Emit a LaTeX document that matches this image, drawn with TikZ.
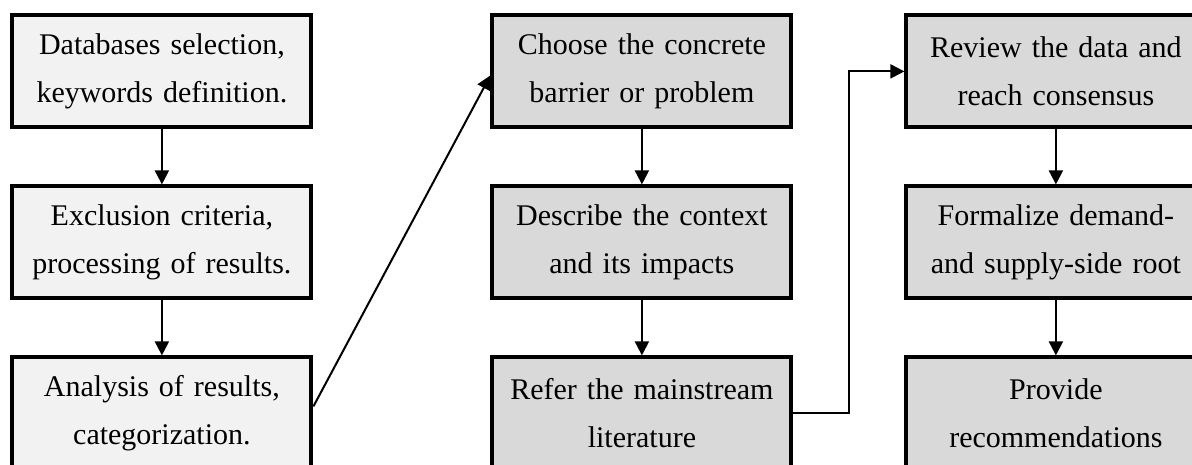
\documentclass[tikz,border=0pt]{standalone}
\usepackage{fontspec}
\setmainfont{Liberation Serif}
\usepackage{tikz}
\usetikzlibrary{positioning, calc, arrows.meta, matrix}
\definecolor{colorLit}{RGB}{242, 242, 242}
\definecolor{colorAna}{RGB}{217, 217, 217}
\tikzstyle{stepLit} = [rectangle, minimum width=149.5pt, minimum height=56pt, text width=145pt, align=center, font=\fontsize{15pt}{24pt}\selectfont, draw=black, line width=2pt, fill=colorLit]
\tikzstyle{stepAna} = [stepLit, fill=colorAna]
\tikzstyle{arrow} = [line width=1pt, -{Triangle[length=7pt, width=7pt]}]

\begin{document}
\begin{tikzpicture}

		% cropped frame
		\useasboundingbox (0pt,0pt) rectangle (596pt,-232.5pt);

		\matrix[anchor=north west, inner sep=0pt, column sep=0pt, row sep=27.5pt] at (5pt,-6.5pt)
		{
			% literature review
			\node (aSelect)[stepLit]{Databases selection,\\ keywords definition.};
			&[88.5pt] \node (bChoose)[stepAna]{Choose the concrete\\ barrier or problem};
			&[55.5pt] \node (cReview)[stepAna]{Review the data and\\ reach consensus};
			\\

			\node (aExclude)[stepLit]{Exclusion criteria,\\ processing of results.};
			& \node (bContext)[stepAna]{Describe the context\\ and its impacts};
			& \node (cRoot)[stepAna]{Formalize demand-\\ and supply-side root};
			\\

			\node (aAnalyse)[stepLit]{Analysis of results,\\ categorization.};
			& \node (bRefer)[stepAna]{Refer the mainstream\\ literature};
			& \node (cRecommend)[stepAna]{Provide\\ recommendations};
			\\
		};

		% 拐弯用
		\coordinate[right=28pt of bRefer.east] (dummy1);

		% lines and arrows
		\draw[arrow](aSelect) -- (aExclude);
		\draw[arrow](aExclude) -- (aAnalyse);
		\draw[arrow]([yshift=3.5pt]aAnalyse.east) -- ([yshift=-2pt]bChoose.west);

		\draw[arrow](bChoose) -- (bContext);
		\draw[arrow](bContext) -- (bRefer);
		\draw[arrow](bRefer.east) -- (dummy1) |- (cReview.west);

		\draw[arrow](cReview) -- (cRoot);
		\draw[arrow](cRoot) -- (cRecommend);

	\end{tikzpicture}
\end{document}
